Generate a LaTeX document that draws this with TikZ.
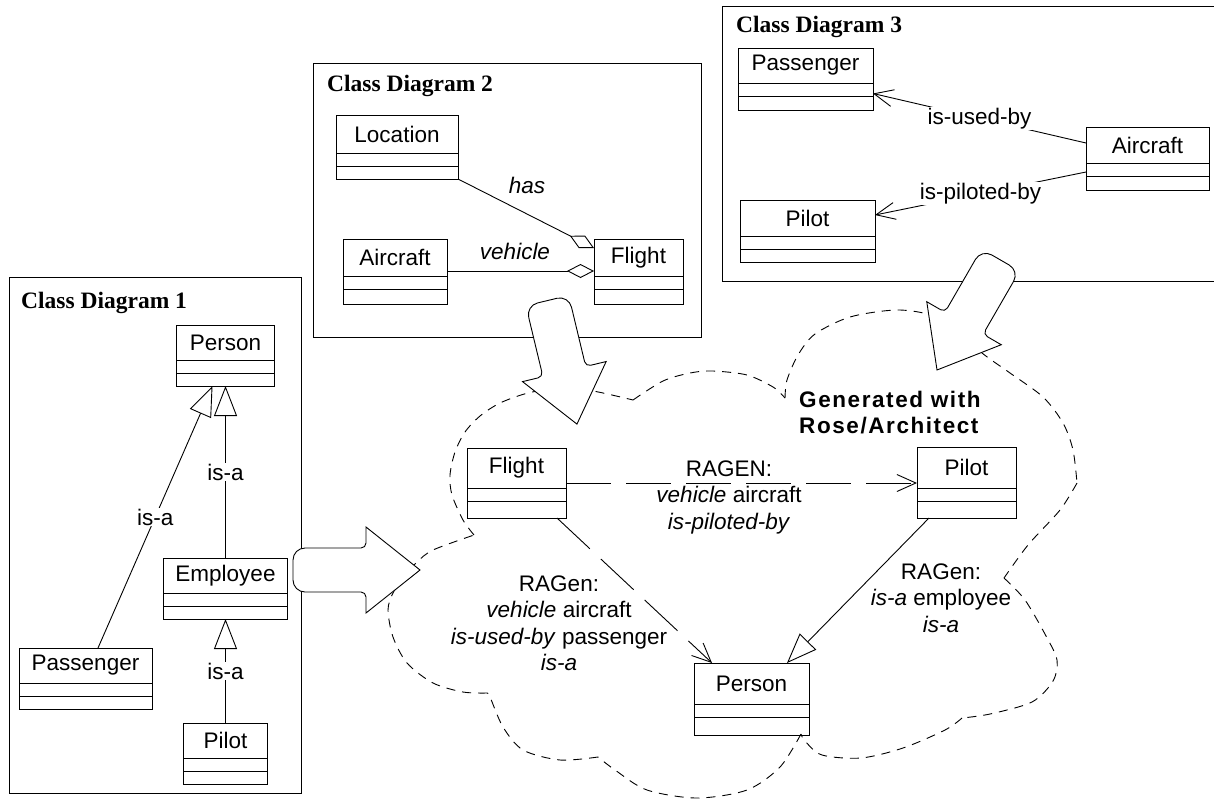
\documentclass[tikz,border=0pt]{standalone}
\usepackage{fontspec}
\setmainfont{Liberation Sans}
\newfontfamily\titlefont{Liberation Serif}
\newfontfamily\genfont[LetterSpace=7]{Liberation Sans}
\usetikzlibrary{arrows.meta,positioning}

\newcommand{\clsfont}{\fontsize{22.5}{26.5}\selectfont}
% class box: name, north west corner, width, head height, last part height, text
\newcommand{\umlclass}[6]{%
  \node[clshead, minimum width=#3pt, minimum height=#4pt, anchor=north west] (#1) at #2 {#6};
  \node[clspart, minimum width=#3pt, below=0pt of #1] (#1-a) {};
  \node[clspart, minimum width=#3pt, minimum height=#5pt, below=0pt of #1-a] (#1-b) {};
}

\tikzset{
  clshead/.style={draw, line width=0.9pt, inner sep=0pt, outer sep=0pt, font=\clsfont},
  clspart/.style={draw, line width=0.9pt, inner sep=0pt, outer sep=0pt, minimum height=13pt},
  lbl/.style={font=\clsfont, inner sep=1pt},
  lblw/.style={lbl, fill=white},
  title/.style={font=\fontsize{23.5}{28}\selectfont\titlefont\bfseries, anchor=base west, inner sep=0pt},
  frame/.style={line width=1pt},
  gen/.style={line width=0.9pt, -{Triangle[open, length=30pt, width=23pt]}},
  agg/.style={line width=0.9pt, -{Diamond[open, length=27pt, width=14pt]}},
  dep/.style={line width=0.9pt, -{Straight Barb[length=19pt, width=17pt]}},
  longdash/.style={dash pattern=on 45pt off 15pt},
  cloudline/.style={line width=0.9pt, dash pattern=on 9pt off 7pt},
  fatarrow/.pic={
    \draw[line width=0.9pt, fill=white] (127,0) -- (73,43) [rounded corners=5pt] -- (73,22)
      [rounded corners=12pt] -- (0,22) -- (0,-22) [rounded corners=5pt] -- (73,-22)
      [sharp corners] -- (73,-43) -- cycle;
  }
}

\begin{document}
\begin{tikzpicture}[x=1pt, y=-1pt]
  \useasboundingbox (0,0) rectangle (1214,801);

  % class diagram 1
  \draw[frame] (9,277) rectangle (301,793);
  \node[title] (title1) at (21,308) {Class Diagram 1};
  \umlclass{person1}{(176.5,325)}{98}{35}{13}{Person}
  \umlclass{employee1}{(163.5,558)}{124}{35}{13}{Employee}
  \umlclass{passenger1}{(19,648)}{133}{35}{13}{Passenger}
  \umlclass{pilot1}{(183.5,723)}{84}{35}{13}{Pilot}
  \draw[gen] (employee1.north) -- node[lblw] {is-a} (person1-b.south);
  \draw[gen] ([xshift=12.5pt]passenger1.north) -- node[lblw] {is-a} ([xshift=-13pt]person1-b.south);
  \draw[gen] (pilot1.north) -- node[lblw] {is-a} (employee1-b.south);

  % class diagram 2
  \draw[frame] (313,63) rectangle (701,337);
  \node[title] (title2) at (327,91) {Class Diagram 2};
  \umlclass{location2}{(336,115)}{122}{38}{13}{Location}
  \umlclass{aircraft2}{(343,239)}{104}{37}{15}{Aircraft}
  \umlclass{flight2}{(594,239)}{89}{37}{15}{Flight}
  \draw[agg] (location2-b.south east) -- ([yshift=-9pt]flight2.north west);
  \draw[agg] ([yshift=5pt]aircraft2.south east) -- ([yshift=5pt]flight2.south west);
  \node[lbl] (has2) at (527,185) {\textit{has}};
  \node[lbl] (vehicle2) at (515,251) {\textit{vehicle}};

  % class diagram 3
  \draw[frame] (1220,6) -- (722,6) -- (722,281) -- (1220,281);
  \node[title] (title3) at (736,32) {Class Diagram 3};
  \umlclass{passenger3}{(738,48)}{135}{35}{14}{Passenger}
  \umlclass{pilot3}{(740,200)}{135}{36}{13}{Pilot}
  \umlclass{aircraft3}{(1086,127)}{123}{36}{14}{Aircraft}
  \draw[dep] ([yshift=2pt]aircraft3.west) -- node[lblw] {is-used-by} ([yshift=-4pt]passenger3-a.east);
  \draw[dep] ([yshift=-2.5pt]aircraft3-a.west) -- node[lblw] {is-piloted-by} ([yshift=3pt]pilot3.east);

  % generated diagram
  \umlclass{flight}{(467,448)}{99}{40}{17}{Flight}
  \umlclass{pilot}{(917,447)}{99}{41}{17}{Pilot}
  \umlclass{person}{(694,663)}{115}{41}{18}{Person}
  \draw[dep, longdash] ([yshift=5pt]flight.south east) -- ([yshift=5pt]pilot.south west);
  \draw[dep, longdash] ([xshift=-9pt]flight-b.south east) -- ([xshift=18pt]person.north west);
  \draw[gen] ([xshift=12pt]pilot-b.south west) -- ([xshift=-22pt]person.north east);
  \node[lbl, align=center] (ragen1) at (729,497) {RAGEN:\\\textit{vehicle} aircraft\\\textit{is-piloted-by}};
  \node[lbl, align=center] (ragen2) at (559,623) {RAGen:\\\textit{vehicle} aircraft\\\textit{is-used-by} passenger\\\textit{is-a}};
  \node[lbl, align=center] (ragen3) at (941,598) {RAGen:\\\textit{is-a} employee\\\textit{is-a}};
  \node[lbl, align=left, anchor=west, inner sep=0pt] (generated) at (799,412.5)
    {\genfont\bfseries Generated with\\\genfont\bfseries Rose/Architect};

  % cloud
  \draw[cloudline] plot[smooth] coordinates {(474,535) (463,520) (452,495) (450,475) (455,452) (465,432) (480,416) (500,403) (528,393) (560,388) (593,391) (633,400)};
  \draw[cloudline] plot[smooth] coordinates {(633,400) (663,381) (690,373) (713,371) (747,375) (773,387) (785,398)};
  \draw[cloudline] plot[smooth] coordinates {(785,398) (787,380) (798,355) (815,334) (850,317) (896,310) (931,315) (958,330) (982,353) (1010,373) (1043,397) (1063,423) (1073,450) (1077,483)};
  \draw[cloudline] plot[smooth] coordinates {(1077,483) (1060,510) (1028,545) (1004,578)};
  \draw[cloudline] plot[smooth] coordinates {(1004,578) (1025,600) (1046,636) (1057,660) (1053,681) (1032,702) (990,714) (962,718)};
  \draw[cloudline] plot[smooth] coordinates {(962,718) (945,730) (903,748) (861,758) (822,755) (805,741) (801,734)};
  \draw[cloudline] plot[smooth] coordinates {(801,734) (780,767) (747,790) (697,798) (647,790) (615,770) (598,757)};
  \draw[cloudline] plot[smooth] coordinates {(598,757) (560,760) (523,750) (503,727) (490,697) (487,693)};
  \draw[cloudline] plot[smooth] coordinates {(487,693) (463,692) (433,683) (407,663) (393,637) (388,610) (393,593) (405,575) (417,562) (433,550) (474,535)};

  % big arrows
  \pic (arrow1) at (293,570) {fatarrow};
  \pic[rotate=-76.5] (arrow2) at (547.3,300.6) {fatarrow};
  \pic[rotate=-120] (arrow3) at (1000.5,260) {fatarrow};
\end{tikzpicture}
\end{document}
